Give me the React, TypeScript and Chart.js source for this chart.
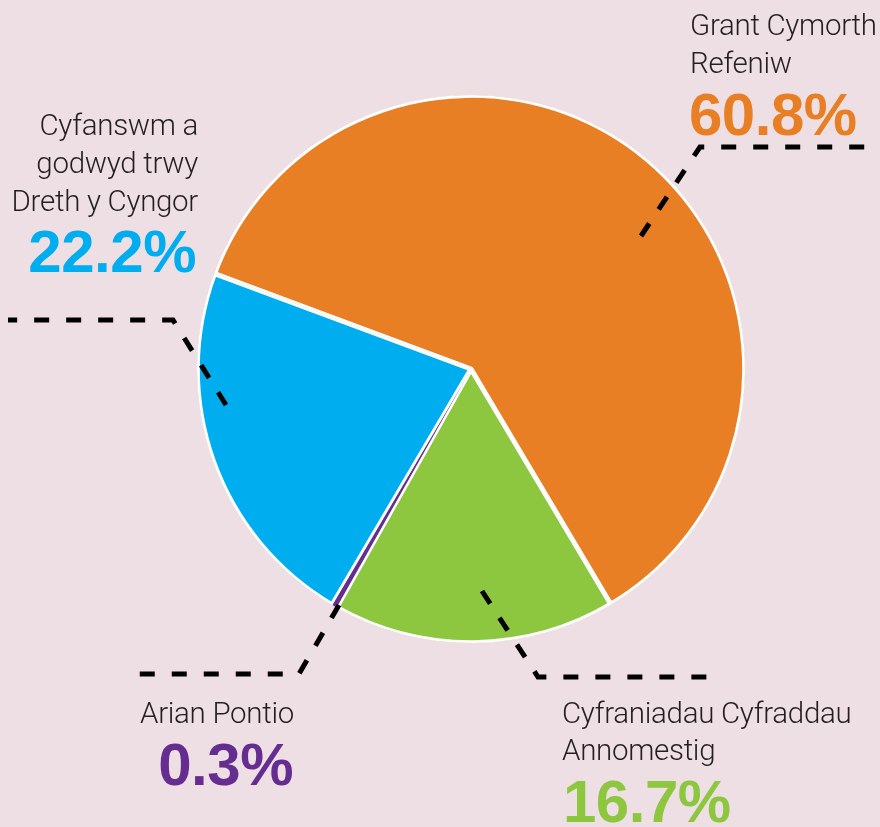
import React, { useEffect, useRef } from 'react';
import { Chart, registerables } from 'chart.js';

Chart.register(...registerables);

// ---- data ----
const categories = [
  'Grant Cymorth Refeniw',
  'Cyfraniadau Cyfraddau Annomestig',
  'Arian Pontio',
  'Cyfanswm a godwyd trwy Dreth y Cyngor',
];
const values = [60.8, 16.7, 0.3, 22.2];
const percentLabels = ['60.8%', '16.7%', '0.3%', '22.2%'];
const labelLines = [
  ['Grant Cymorth', 'Refeniw'],
  ['Cyfraniadau Cyfraddau', 'Annomestig'],
  ['Arian Pontio'],
  ['Cyfanswm a', 'godwyd trwy', 'Dreth y Cyngor'],
];
const sliceColors = ['#E97F24', '#8DC63F', '#662D91', '#00AEEF'];

// ---- layout (annotation placement, pixels) ----
const BG = '#EEDFE4';
const TEXT_COLOR = '#231F20';
const sliceBorders = [2.5, 2.5, 0, 2.5];
const labelLayout = [
  { align: 'left', x: 690, baselines: [35, 73], pctX: 689, pctBaseline: 135,
    leader: { start: [170, -133], elbow: [229, -222], endX: 880 } },
  { align: 'left', x: 562, baselines: [723, 760], pctX: 563, pctBaseline: 822,
    leader: { start: [11, 222], elbow: [67, 308], endX: 708 } },
  { align: 'right', x: 294, baselines: [723], pctX: 293, pctBaseline: 785,
    leader: { start: [-132, 236], elbow: [-172, 305], endX: 135 } },
  { align: 'right', x: 198, baselines: [135, 173, 211], pctX: 196, pctBaseline: 272,
    leader: { start: [-245, 36], elbow: [-298, -49], endX: 8 } },
];

const labelPlugin = {
  id: 'calloutLabels',
  afterDraw(chart: any) {
    const ctx = chart.ctx as CanvasRenderingContext2D;
    const meta = chart.getDatasetMeta(0);
    const arc = meta.data[0] as any;
    const cx = arc.x;
    const cy = arc.y;
    ctx.save();
    // leaders
    ctx.strokeStyle = '#000000';
    ctx.lineWidth = 5;
    ctx.lineCap = 'butt';
    ctx.lineJoin = 'miter';
    ctx.setLineDash([15, 17]);
    labelLayout.forEach((l) => {
      const { start, elbow, endX } = l.leader;
      ctx.beginPath();
      ctx.moveTo(cx + start[0], cy + start[1]);
      ctx.lineTo(cx + elbow[0], cy + elbow[1]);
      ctx.lineTo(endX, cy + elbow[1]);
      ctx.stroke();
    });
    ctx.setLineDash([]);
    // texts
    labelLayout.forEach((l, i) => {
      ctx.textAlign = l.align as CanvasTextAlign;
      ctx.textBaseline = 'alphabetic';
      ctx.fillStyle = TEXT_COLOR;
      ctx.font = '300 29.5px Roboto, "Liberation Sans", sans-serif';
      (ctx as any).letterSpacing = '-0.3px';
      labelLines[i].forEach((t, j) => {
        ctx.fillText(t, l.x, l.baselines[j]);
      });
      ctx.fillStyle = sliceColors[i];
      ctx.font = 'bold 60px "Liberation Sans", Arial, sans-serif';
      (ctx as any).letterSpacing = '-0.5px';
      ctx.fillText(percentLabels[i], l.pctX, l.pctBaseline);
    });
    ctx.restore();
  },
};

export default function App() {
  const canvasRef = useRef<HTMLCanvasElement | null>(null);

  useEffect(() => {
    if (!canvasRef.current) return;
    const chart = new Chart(canvasRef.current, {
      type: 'pie',
      data: {
        labels: categories,
        datasets: [
          {
            data: values,
            backgroundColor: sliceColors,
            borderColor: '#FFFFFF',
            borderWidth: sliceBorders,
            borderAlign: 'inner',
          },
        ],
      },
      options: {
        responsive: false,
        animation: false,
        events: [],
        rotation: -69.6,
        radius: 274,
        layout: { padding: { left: 100, right: 38, top: 10, bottom: 99 } },
        plugins: {
          legend: { display: false },
          tooltip: { enabled: false },
        },
      },
      plugins: [labelPlugin],
    });
    return () => chart.destroy();
  }, []);

  return (
    <div
      style={{
        position: 'absolute',
        left: 0,
        top: 0,
        width: 880,
        height: 827,
        background: BG,
        overflow: 'hidden',
      }}
    >
      <canvas ref={canvasRef} width={880} height={827} style={{ display: 'block' }} />
    </div>
  );
}
